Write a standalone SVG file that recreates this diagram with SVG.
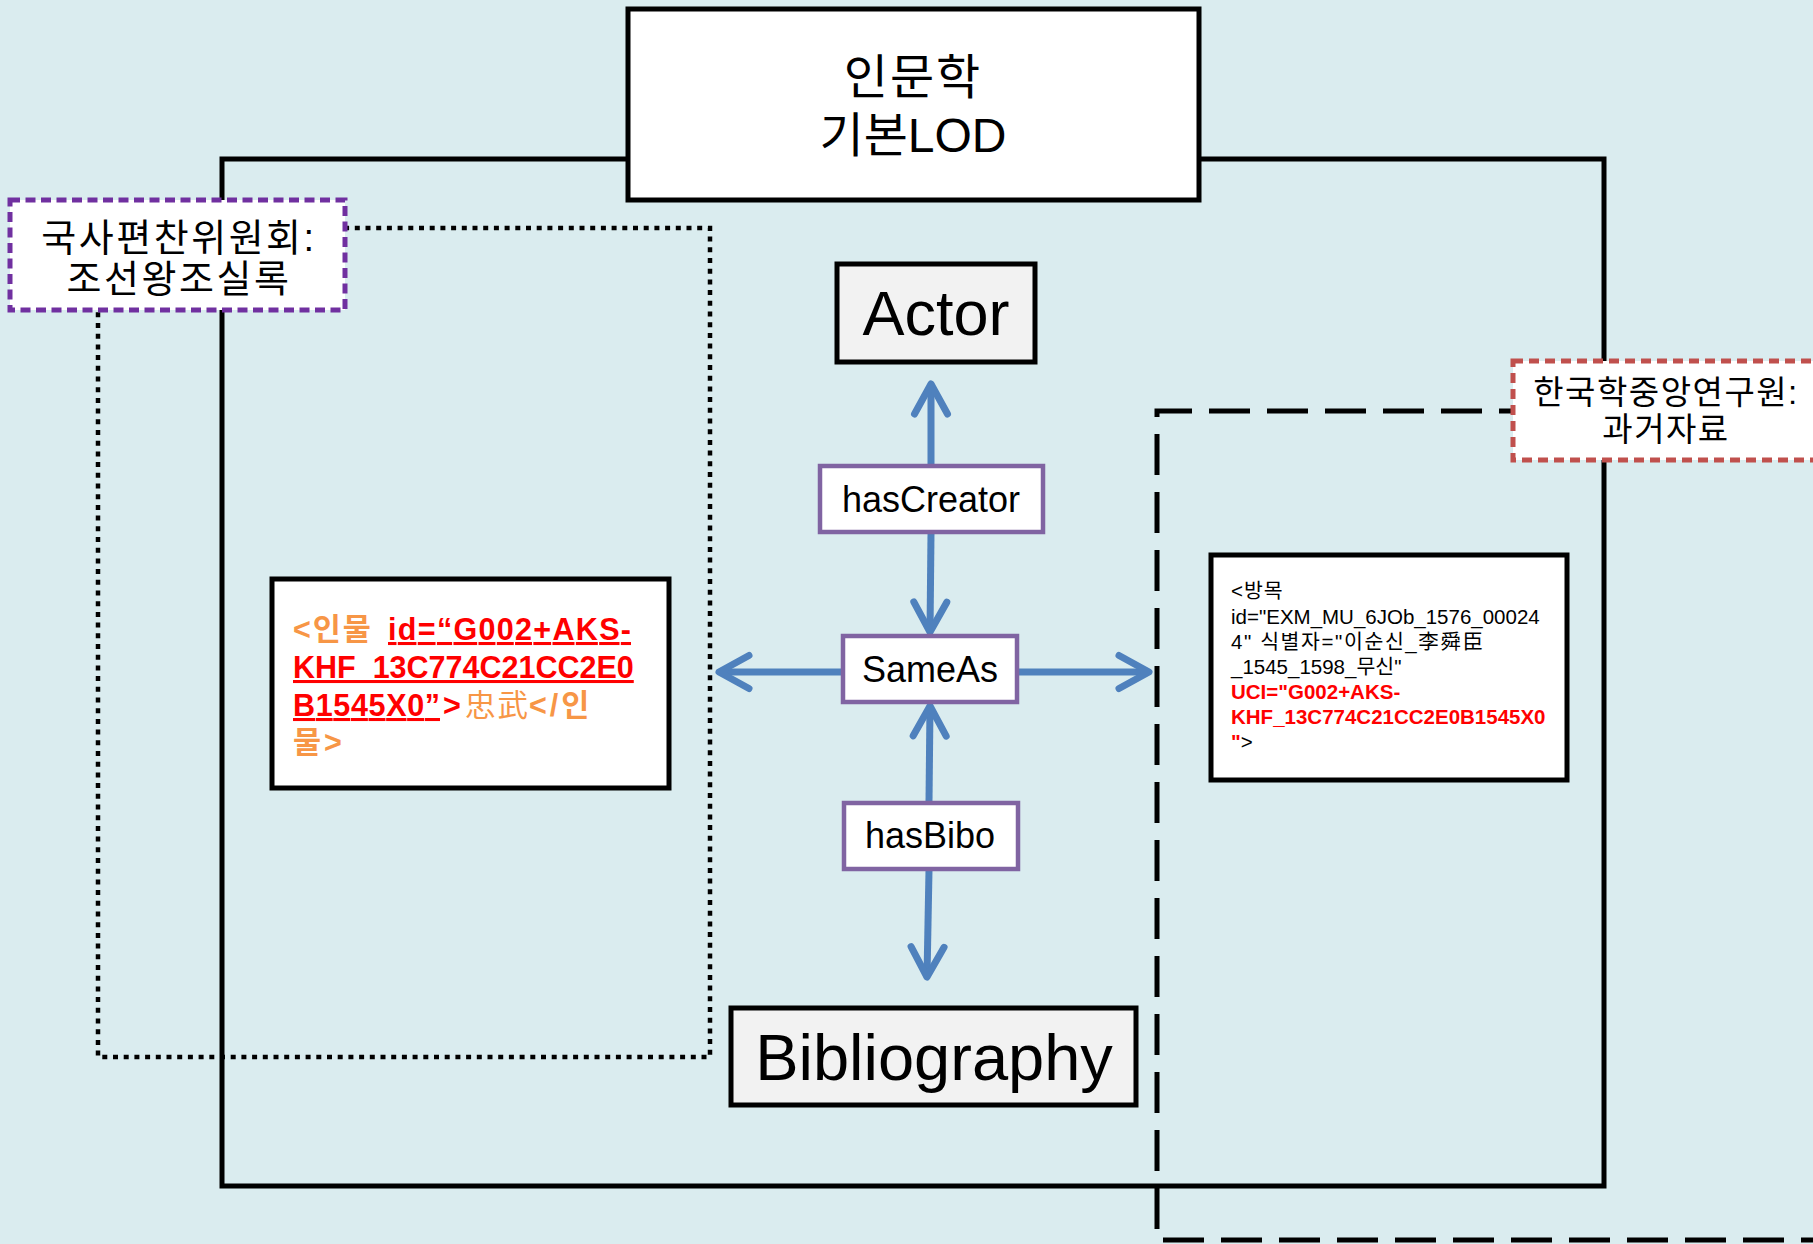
<svg xmlns="http://www.w3.org/2000/svg" width="1813" height="1244" viewBox="0 0 1813 1244">
<style>
.k{font-family:"Liberation Sans","Noto Sans CJK KR",sans-serif;}
.box{fill:#ffffff;stroke:#000;stroke-width:5;}
.gbox{fill:#f2f2f2;stroke:#000;stroke-width:5;}
.pbox{fill:#ffffff;stroke:#8064a2;stroke-width:4.5;}
.arr{stroke:#4f81bd;stroke-width:7;fill:none;marker-end:url(#chev);}
.or{fill:#f79646;}
.rd{fill:#ff0000;}
</style>
<defs>
<marker id="chev" markerUnits="userSpaceOnUse" markerWidth="60" markerHeight="60" viewBox="-40 -30 50 60" refX="0" refY="0" orient="auto">
<path d="M -30 -16.5 L 0 0 L -30 16.5" fill="none" stroke="#4f81bd" stroke-width="7" stroke-linecap="round" stroke-linejoin="round"/>
</marker>
</defs>
<rect x="0" y="0" width="1813" height="1244" fill="#daecef"/>

<g id="frame-main">
<rect x="222" y="159" width="1382" height="1027" fill="none" stroke="#000" stroke-width="5"/>
</g>
<g id="frame-dotted">
<rect x="98" y="228" width="612" height="829" fill="none" stroke="#000" stroke-width="4.5" stroke-dasharray="5 5.7"/>
</g>
<g id="frame-dashed">
<path d="M 1830 411 L 1157 411 L 1157 1240 L 1830 1240" fill="none" stroke="#000" stroke-width="5" stroke-dasharray="41 17"/>
</g>

<g id="title">
<rect class="box" x="628" y="9" width="571" height="191"/>
<text class="k" x="913" y="94" font-size="48" letter-spacing="2" text-anchor="middle">인문학</text>
<text class="k" x="913" y="152" font-size="48" text-anchor="middle">기본LOD</text>
</g>

<g id="label-nikh">
<rect x="10" y="200" width="335" height="110" fill="#fff" stroke="#7030a0" stroke-width="5" stroke-dasharray="10 5.5"/>
<text class="k" x="179" y="251" font-size="38" letter-spacing="2.5" text-anchor="middle">국사편찬위원회:</text>
<text class="k" x="179" y="292" font-size="38" letter-spacing="2.5" text-anchor="middle">조선왕조실록</text>
</g>

<g id="label-aks">
<rect x="1513" y="361" width="320" height="99" fill="#fff" stroke="#c0504d" stroke-width="5" stroke-dasharray="10 6"/>
<text class="k" x="1666" y="404" font-size="33" letter-spacing="1.5" text-anchor="middle">한국학중앙연구원:</text>
<text class="k" x="1666" y="441" font-size="33" letter-spacing="1.5" text-anchor="middle">과거자료</text>
</g>

<g id="connectors">
<line class="arr" x1="931" y1="465" x2="931" y2="384"/>
<line class="arr" x1="931" y1="533" x2="930" y2="632"/>
<line class="arr" x1="842" y1="672" x2="719" y2="672"/>
<line class="arr" x1="1018" y1="672" x2="1149" y2="672"/>
<line class="arr" x1="929" y1="802" x2="930" y2="706"/>
<line class="arr" x1="929" y1="870" x2="927" y2="977"/>
</g>

<g id="actor">
<rect class="gbox" x="837" y="264" width="198" height="98"/>
<text class="k" x="936" y="335" font-size="63" text-anchor="middle">Actor</text>
</g>

<g id="hasCreator">
<rect class="pbox" x="820" y="466" width="223" height="66"/>
<text class="k" x="931" y="512" font-size="36" text-anchor="middle">hasCreator</text>
</g>

<g id="sameAs">
<rect class="pbox" x="843" y="636" width="174" height="66"/>
<text class="k" x="930" y="682" font-size="36" text-anchor="middle">SameAs</text>
</g>

<g id="hasBibo">
<rect class="pbox" x="844" y="803" width="174" height="66"/>
<text class="k" x="930" y="848" font-size="36" text-anchor="middle">hasBibo</text>
</g>

<g id="bibliography">
<rect class="gbox" x="731" y="1008" width="405" height="97"/>
<text class="k" x="934" y="1080" font-size="65" text-anchor="middle">Bibliography</text>
</g>

<g id="left-record">
<rect class="box" x="272" y="579" width="397" height="209"/>
<text class="k" font-size="30.5" font-weight="bold">
<tspan x="293" y="640" class="or" letter-spacing="2">&lt;인물</tspan><tspan x="388" y="640" class="rd" text-decoration="underline" textLength="243" lengthAdjust="spacing">id=“G002+AKS-</tspan>
<tspan x="293" y="678" class="rd" text-decoration="underline">KHF_13C774C21CC2E0</tspan>
<tspan x="293" y="716" class="rd" text-decoration="underline" textLength="147" lengthAdjust="spacing">B1545X0”</tspan><tspan x="443" y="716" class="rd">&gt;</tspan><tspan x="465" y="716" class="or" font-weight="normal" letter-spacing="2">忠武</tspan><tspan x="529" y="716" class="or" letter-spacing="3">&lt;/인</tspan>
<tspan x="293" y="753" class="or" letter-spacing="3">물&gt;</tspan>
</text>
</g>

<g id="right-record">
<rect class="box" x="1211" y="555" width="356" height="225"/>
<text class="k" font-size="20.5">
<tspan x="1231" y="598" letter-spacing="1">&lt;방목</tspan>
<tspan x="1231" y="624">id="EXM_MU_6JOb_1576_00024</tspan>
<tspan x="1231" y="649" textLength="252" lengthAdjust="spacing">4" 식별자="이순신_李舜臣</tspan>
<tspan x="1231" y="674">_1545_1598_무신"</tspan>
<tspan x="1231" y="699" class="rd" font-weight="bold">UCI="G002+AKS-</tspan>
<tspan x="1231" y="724" class="rd" font-weight="bold">KHF_13C774C21CC2E0B1545X0</tspan>
<tspan x="1231" y="749"><tspan class="rd" font-weight="bold">"</tspan><tspan>&gt;</tspan></tspan>
</text>
</g>
</svg>
